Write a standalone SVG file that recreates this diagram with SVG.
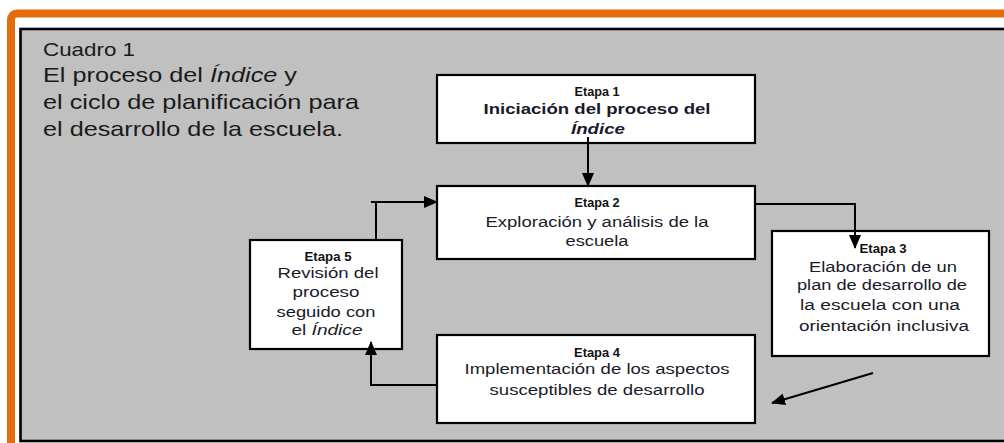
<svg xmlns="http://www.w3.org/2000/svg" width="1004" height="443" viewBox="0 0 1004 443">
<style>
.box{fill:#fff;stroke:#000;stroke-width:2.2}
.conn{fill:none;stroke:#000;stroke-width:2}
.t{font-family:"Liberation Sans",Arial,sans-serif;fill:#1a1a1a}
.et{font-family:"Liberation Sans",Arial,sans-serif;font-weight:bold;font-size:12px;fill:#111;text-anchor:middle}
.bt{font-family:"Liberation Sans",Arial,sans-serif;font-size:15.5px;fill:#1a1a2a;text-anchor:middle}
</style>
<defs>
<marker id="ah" markerUnits="userSpaceOnUse" markerWidth="14" markerHeight="12" refX="13" refY="6" orient="auto">
<path d="M0,0 L14,6 L0,12 Z" fill="#000"/>
</marker>
</defs>
<rect x="0" y="0" width="1004" height="443" fill="#fff"/>
<rect x="11" y="13.5" width="1010" height="440" rx="6" fill="none" stroke="#E46C0A" stroke-width="8"/>
<rect x="20.5" y="29" width="1000" height="412" fill="#c0c0c0" stroke="#000" stroke-width="2.6"/>
<g id="title">
<text class="t" x="43" y="56" font-size="19" textLength="92" lengthAdjust="spacingAndGlyphs">Cuadro 1</text>
<text class="t" x="43" y="82" font-size="21" textLength="254" lengthAdjust="spacingAndGlyphs">El proceso del <tspan font-style="italic">Índice</tspan> y</text>
<text class="t" x="43" y="109" font-size="21" textLength="316" lengthAdjust="spacingAndGlyphs">el ciclo de planificación para</text>
<text class="t" x="43" y="136" font-size="21" textLength="300" lengthAdjust="spacingAndGlyphs">el desarrollo de la escuela.</text>
</g>
<g id="etapa1">
<rect class="box" x="437" y="75" width="318" height="68"/>
<text class="et" x="597" y="96" textLength="45" lengthAdjust="spacingAndGlyphs">Etapa 1</text>
<text class="bt" x="597" y="114" font-weight="bold" textLength="227" lengthAdjust="spacingAndGlyphs">Iniciación del proceso del</text>
<text class="bt" x="598" y="134" font-weight="bold" font-style="italic" textLength="54" lengthAdjust="spacingAndGlyphs">Índice</text>
</g>
<g id="etapa2">
<rect class="box" x="437" y="186" width="318" height="73"/>
<text class="et" x="597" y="207" textLength="45" lengthAdjust="spacingAndGlyphs">Etapa 2</text>
<text class="bt" x="597" y="227" textLength="223" lengthAdjust="spacingAndGlyphs">Exploración y análisis de la</text>
<text class="bt" x="597" y="246" textLength="63" lengthAdjust="spacingAndGlyphs">escuela</text>
</g>
<g id="etapa3">
<rect class="box" x="772" y="231" width="217" height="125"/>
<text class="et" x="883" y="253" textLength="47" lengthAdjust="spacingAndGlyphs">Etapa 3</text>
<text class="bt" x="883" y="272" textLength="148" lengthAdjust="spacingAndGlyphs">Elaboración de un</text>
<text class="bt" x="882" y="290" textLength="170" lengthAdjust="spacingAndGlyphs">plan de desarrollo de</text>
<text class="bt" x="880" y="310" textLength="160" lengthAdjust="spacingAndGlyphs">la escuela con una</text>
<text class="bt" x="884" y="331" textLength="170" lengthAdjust="spacingAndGlyphs">orientación inclusiva</text>
</g>
<g id="etapa4">
<rect class="box" x="437" y="335" width="318" height="88"/>
<text class="et" x="597" y="357" textLength="46" lengthAdjust="spacingAndGlyphs">Etapa 4</text>
<text class="bt" x="597" y="374" textLength="265" lengthAdjust="spacingAndGlyphs">Implementación de los aspectos</text>
<text class="bt" x="597" y="395" textLength="215" lengthAdjust="spacingAndGlyphs">susceptibles de desarrollo</text>
</g>
<g id="etapa5">
<rect class="box" x="250" y="240" width="152" height="109"/>
<text class="et" x="328" y="261" textLength="47" lengthAdjust="spacingAndGlyphs">Etapa 5</text>
<text class="bt" x="328" y="278" textLength="101" lengthAdjust="spacingAndGlyphs">Revisión del</text>
<text class="bt" x="326" y="297" textLength="67" lengthAdjust="spacingAndGlyphs">proceso</text>
<text class="bt" x="326" y="317" textLength="99" lengthAdjust="spacingAndGlyphs">seguido con</text>
<text class="bt" x="327" y="335" textLength="71" lengthAdjust="spacingAndGlyphs">el <tspan font-style="italic">Índice</tspan></text>
</g>
<g id="connectors">
<path class="conn" d="M588,137 V186" marker-end="url(#ah)"/>
<path class="conn" d="M755,204 H855 V248" marker-end="url(#ah)"/>
<path class="conn" d="M437,385 H371 V342" marker-end="url(#ah)"/>
<path class="conn" d="M376,240 V202"/>
<path class="conn" d="M371,202 H437" marker-end="url(#ah)"/>
<path class="conn" d="M873,373 L772,403" marker-end="url(#ah)"/>
</g>
</svg>
